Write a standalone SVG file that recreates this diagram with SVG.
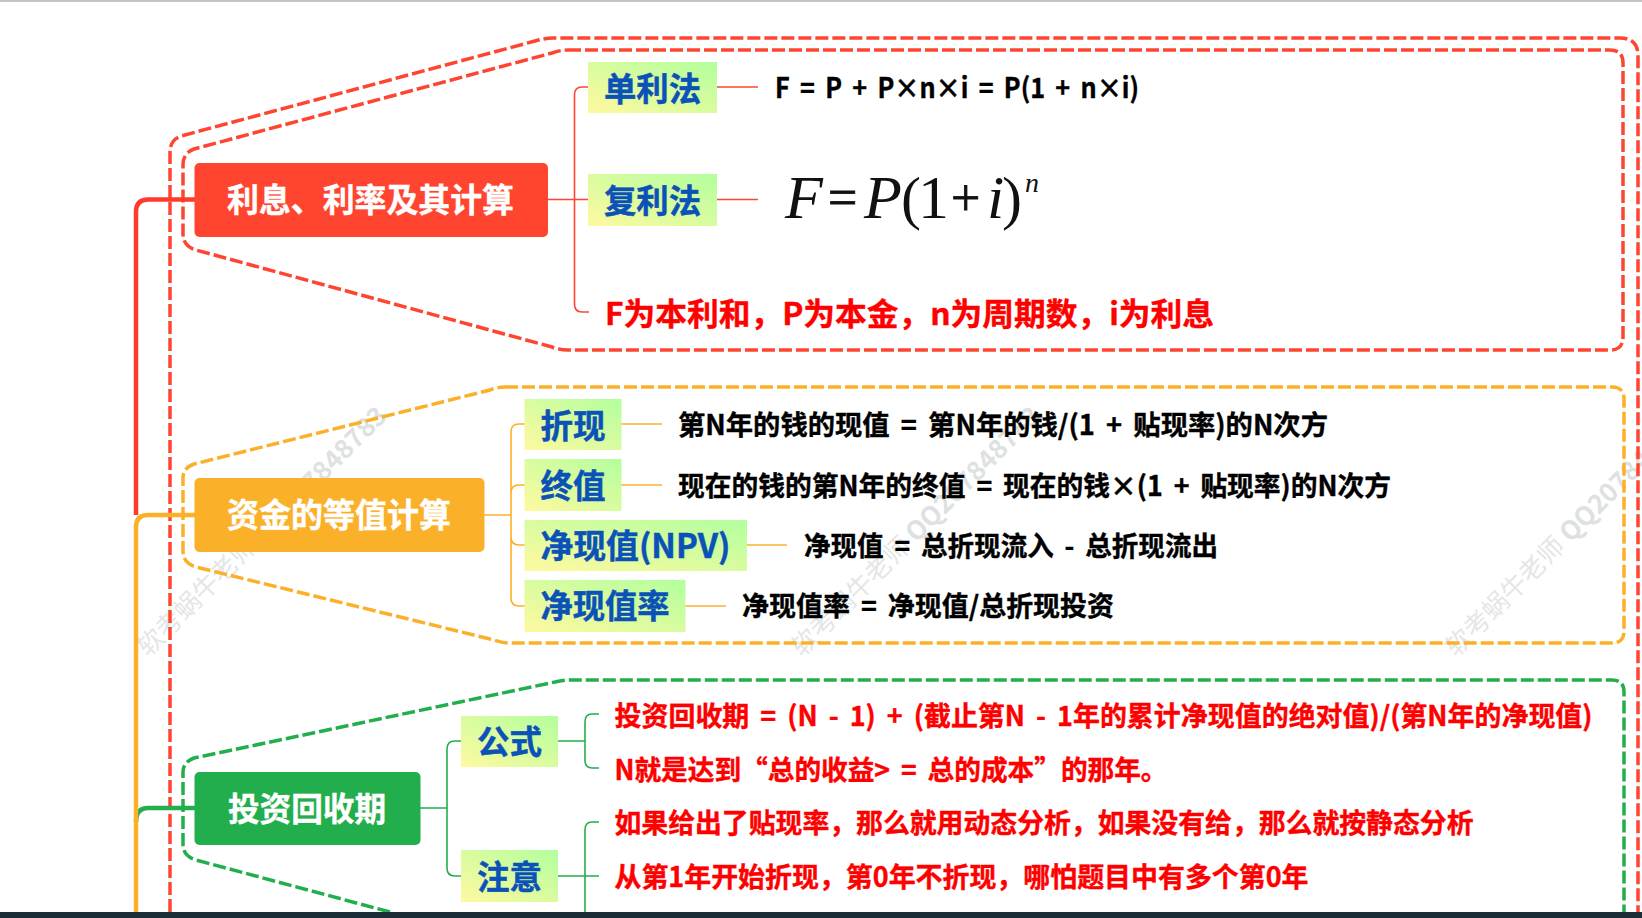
<svg xmlns="http://www.w3.org/2000/svg" width="1642" height="918" viewBox="0 0 1642 918">
<defs>
<linearGradient id="lab" x1="0" y1="1" x2="1" y2="0"><stop offset="0" stop-color="#FFF9A0"/><stop offset="1" stop-color="#B2FF9E"/></linearGradient>
</defs>
<style>
text{font-family:"Noto Sans CJK SC","Noto Sans",sans-serif;font-weight:700}
.m{font-size:33px;fill:#fff;stroke:#fff;stroke-width:.4;dominant-baseline:central}
.l{font-size:33px;fill:#0B52B8;stroke:#0B52B8;stroke-width:.5;dominant-baseline:central}
.b{font-size:27.500px;fill:#000;stroke:#000;stroke-width:.4;word-spacing:5px;dominant-baseline:central}
.r{font-size:27.500px;fill:#F00;stroke:#F00;stroke-width:.4;word-spacing:5px;dominant-baseline:central}
.mth{font-family:"Liberation Serif",serif;font-weight:400;fill:#111;font-size:62px}
.wm{font-family:"Noto Sans CJK SC",sans-serif;font-weight:400;font-size:26px;fill:#E4E6E6}
.wb{font-weight:700;fill:#DEE1E1}
.d{fill:none;stroke-width:3.500;stroke-dasharray:13 4}
.c{fill:none;stroke-width:1.6}
.s{fill:none;stroke-width:4.500}
.lb{fill:url(#lab)}
</style>
<rect width="1642" height="918" fill="#fff"/>
<rect width="1642" height="2" fill="#C4C4C4"/>
<g id="watermarks">
<text class="wm" transform="translate(148 658) rotate(-45)" xml:space="preserve">软考蜗牛老师 <tspan class="wb">QQ207848783</tspan></text>
<text class="wm" transform="translate(802 658) rotate(-45)" xml:space="preserve">软考蜗牛老师 <tspan class="wb">QQ207848783</tspan></text>
<text class="wm" transform="translate(1456 658) rotate(-45)" xml:space="preserve">软考蜗牛老师 <tspan class="wb">QQ207848783</tspan></text>
</g>
<g id="connectors">
<path class="d" stroke="#FF4530" d="M170 912V152Q170 140 181 136L535 41Q545 38 553 38H1620Q1638 38 1638 56V912"/>
<path class="d" stroke="#FF4530" d="M568 50H1610Q1623 50 1623 63V337Q1623 350 1610 350H568Q560 350 552 347L196 250Q183 246 183 234V165Q183 153 194 149L552 53Q560 50 568 50Z"/>
<path class="d" stroke="#FBB02A" d="M505 387H1612Q1624 387 1624 399V631Q1624 643 1612 643H510Q502 643 494 640L196 567Q183 563 183 551V478Q183 468 194 464L490 390Q498 387 505 387Z"/>
<path class="d" stroke="#22AE4C" d="M390 912L196 860Q183 856 183 844V772Q183 762 194 758L555 682Q563 680 571 680H1612Q1624 680 1624 692V912"/>
<path class="s" stroke="#FF3B2B" d="M136 515V212Q136 199.500 148 199.500H195"/>
<path class="s" stroke="#22AE4C" d="M136 822Q136 808 148 808H195"/>
<path class="s" stroke="#FBB02A" d="M136 912V527Q136 515 148 515H195"/>
<g stroke="#FF4530">
<path class="c" d="M548 199.500H588M717 87H758M717 199.500H758"/>
<path class="c" d="M589 87H582Q574.500 87 574.500 95V304Q574.500 312 582 312H589"/>
</g>
<g stroke="#FBB02A">
<path class="c" d="M484 515H511M621 424H662M621 485H662M747 545H787M685 606H726"/>
<path class="c" d="M525 424H519Q511 424 511 432V598Q511 606 519 606H525M525 485H519Q511 485 511 493M511 537Q511 545 519 545H525"/>
</g>
<g stroke="#22AE4C">
<path class="c" d="M420 808H447M558 741H585M558 876H599"/>
<path class="c" d="M461 741H455Q447 741 447 749V868Q447 876 455 876H461"/>
<path class="c" d="M599 714H592Q585 714 585 722V760Q585 768 592 768H599"/>
<path class="c" d="M599 822H592Q585 822 585 830V912"/>
</g>
</g>
<g id="node-interest"><rect x="194.500" y="163" width="353.500" height="74" rx="5" fill="#FF4530"/><text class="m" x="227" y="198" textLength="287" lengthAdjust="spacingAndGlyphs">利息、利率及其计算</text></g>
<g id="node-simple"><rect class="lb" x="588" y="62" width="129" height="51"/><text class="l" x="604" y="87" textLength="97" lengthAdjust="spacingAndGlyphs">单利法</text></g>
<g id="node-compound"><rect class="lb" x="588" y="174" width="129" height="52"/><text class="l" x="604" y="199" textLength="97" lengthAdjust="spacingAndGlyphs">复利法</text></g>
<g id="text-simple"><text class="b" x="775" y="85.500" textLength="364" lengthAdjust="spacingAndGlyphs">F = P + P×n×i = P(1 + n×i)</text></g>
<g id="text-compound">
<text class="mth" font-style="italic" x="785" y="218">F</text>
<text class="mth" x="828" y="215" style="font-size:52px;stroke:#111;stroke-width:.8">=</text>
<text class="mth" font-style="italic" x="864" y="218">P</text>
<text class="mth" x="901" y="218" style="font-size:60px">(</text>
<text class="mth" x="918" y="218">1</text>
<text class="mth" x="951" y="215" style="font-size:52px;stroke:#111;stroke-width:.8">+</text>
<text class="mth" font-style="italic" x="987" y="218">i</text>
<text class="mth" x="1002" y="218" style="font-size:60px">)</text>
<text class="mth" font-style="italic" x="1025" y="192" style="font-size:28px">n</text>
</g>
<g id="text-legend"><text class="r" style="font-size:31px;word-spacing:0" x="605" y="311" textLength="609" lengthAdjust="spacingAndGlyphs">F为本利和，P为本金，n为周期数，i为利息</text></g>
<g id="node-equiv"><rect x="194.500" y="478" width="290" height="74" rx="5" fill="#FBB02A"/><text class="m" x="227" y="513" textLength="224" lengthAdjust="spacingAndGlyphs">资金的等值计算</text></g>
<g id="node-discount"><rect class="lb" x="524.500" y="399" width="97" height="51"/><text class="l" x="540.500" y="424" textLength="65" lengthAdjust="spacingAndGlyphs">折现</text></g>
<g id="node-future"><rect class="lb" x="524.500" y="459" width="97" height="52"/><text class="l" x="540.500" y="484" textLength="65" lengthAdjust="spacingAndGlyphs">终值</text></g>
<g id="node-npv"><rect class="lb" x="524.500" y="520" width="222.500" height="51"/><text class="l" x="540.500" y="544" textLength="190" lengthAdjust="spacingAndGlyphs">净现值(NPV)</text></g>
<g id="node-npvr"><rect class="lb" x="524.500" y="580" width="161" height="52"/><text class="l" x="540.500" y="604" textLength="129" lengthAdjust="spacingAndGlyphs">净现值率</text></g>
<g id="text-discount"><text class="b" x="678" y="423" textLength="650" lengthAdjust="spacingAndGlyphs">第N年的钱的现值 = 第N年的钱/(1 + 贴现率)的N次方</text></g>
<g id="text-future"><text class="b" x="678" y="483.500" textLength="713" lengthAdjust="spacingAndGlyphs">现在的钱的第N年的终值 = 现在的钱×(1 + 贴现率)的N次方</text></g>
<g id="text-npv"><text class="b" x="804" y="544" textLength="414" lengthAdjust="spacingAndGlyphs">净现值 = 总折现流入 - 总折现流出</text></g>
<g id="text-npvr"><text class="b" x="742" y="604" textLength="372" lengthAdjust="spacingAndGlyphs">净现值率 = 净现值/总折现投资</text></g>
<g id="node-payback"><rect x="194.500" y="772" width="226" height="73" rx="5" fill="#22AE4C"/><text class="m" x="228" y="807" textLength="158" lengthAdjust="spacingAndGlyphs">投资回收期</text></g>
<g id="node-formula"><rect class="lb" x="461" y="716" width="97" height="51"/><text class="l" x="477" y="740" textLength="65" lengthAdjust="spacingAndGlyphs">公式</text></g>
<g id="node-note"><rect class="lb" x="461" y="850" width="97" height="52"/><text class="l" x="477" y="875" textLength="65" lengthAdjust="spacingAndGlyphs">注意</text></g>
<g id="text-pb1"><text class="r" x="614.500" y="714" textLength="978" lengthAdjust="spacingAndGlyphs">投资回收期 = (N - 1) + (截止第N - 1年的累计净现值的绝对值)/(第N年的净现值)</text></g>
<g id="text-pb2"><text class="r" x="614.500" y="768" textLength="553" lengthAdjust="spacingAndGlyphs">N就是达到“总的收益&gt; = 总的成本”的那年。</text></g>
<g id="text-pb3"><text class="r" x="614.500" y="821" textLength="859" lengthAdjust="spacingAndGlyphs">如果给出了贴现率，那么就用动态分析，如果没有给，那么就按静态分析</text></g>
<g id="text-pb4"><text class="r" x="614.500" y="875" textLength="694" lengthAdjust="spacingAndGlyphs">从第1年开始折现，第0年不折现，哪怕题目中有多个第0年</text></g>
<rect x="0" y="912" width="1642" height="6" fill="#1B2E38"/>
</svg>
